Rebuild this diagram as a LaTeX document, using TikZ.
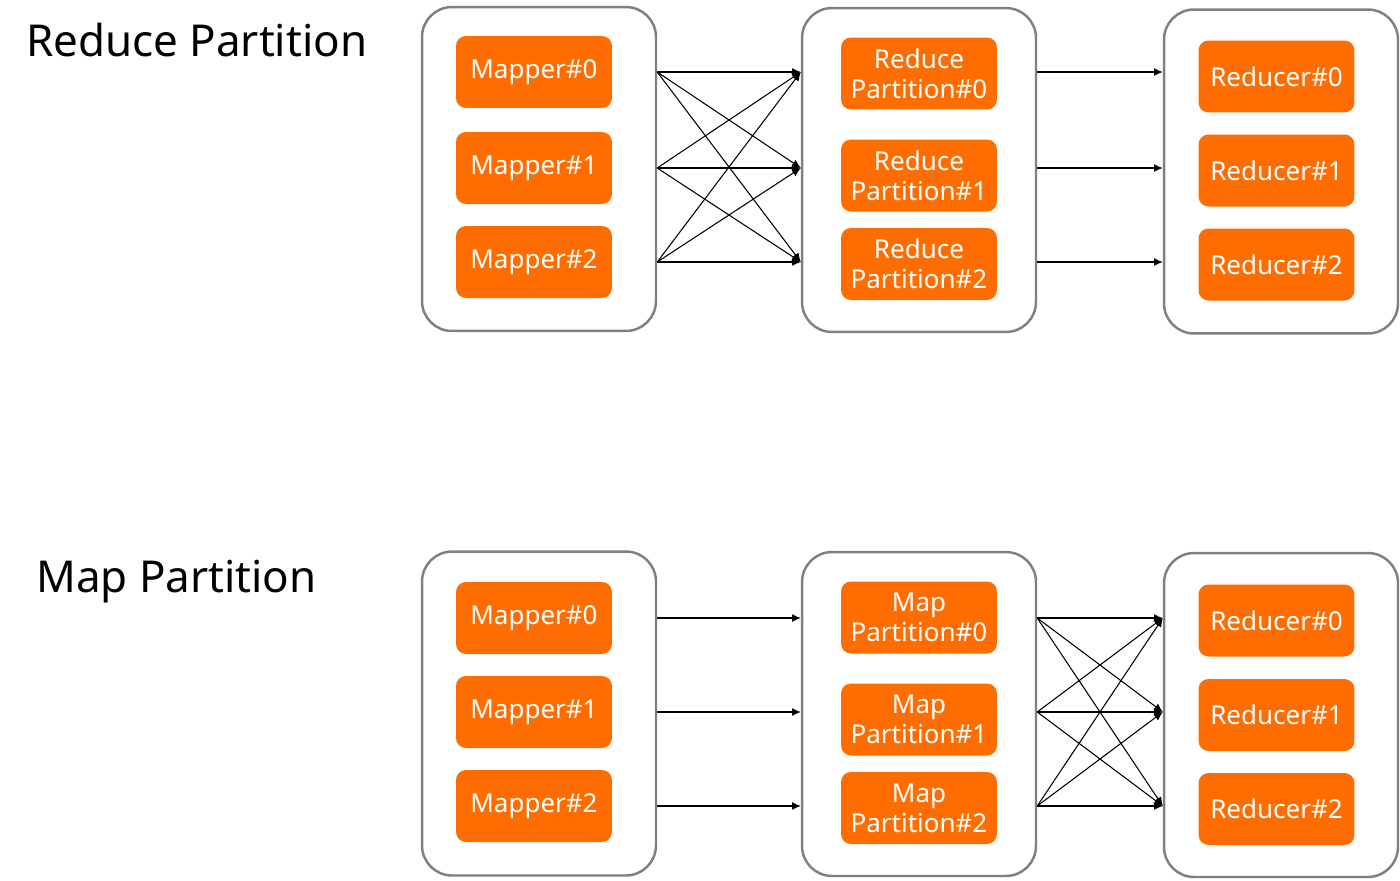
\documentclass[tikz,border=0pt]{standalone}
\usepackage{fontspec}
\setmainfont{Noto Sans}
\usepackage{xcolor}
\definecolor{flame}{HTML}{FF6D00}
\definecolor{frame}{HTML}{808080}
\usepackage{tikz}
\usetikzlibrary{positioning,arrows.meta,calc}

\begin{document}
\begin{tikzpicture}[
  x=0.02cm,y=-0.02cm,
  font=\fontsize{14.8}{17}\selectfont,
  stage/.style={draw=frame,line width=1.4pt,fill=white,rounded corners=0.6cm,
    minimum width=4.68cm,minimum height=6.48cm},
  task/.style={fill=flame,text=white,rounded corners=0.2cm,align=center,
    minimum width=3.12cm,minimum height=1.44cm,inner sep=2pt},
  title/.style={anchor=west,font=\fontsize{25}{30}\selectfont},
  flow/.style={draw=black,line width=0.6pt,-{Latex[length=5pt,width=4.5pt]}}
]
\useasboundingbox (0,0) rectangle (1400,880);

% Reduce partition
\node[title] (ttop) at (20,40) {Reduce Partition};
\node[stage] (ra) at (539,169) {};
\node[stage] (rb) at (919,170) {};
\node[stage] (rc) at (1281,171.5) {};
\node[task] (rm0) at (534,72) {Mapper\#0};
\node[task] (rm1) at (534,168) {Mapper\#1};
\node[task] (rm2) at (534,262) {Mapper\#2};
\node[task] (rp0) at (919,73.5) {Reduce\\Partition\#0};
\node[task] (rp1) at (919,175.5) {Reduce\\Partition\#1};
\node[task] (rp2) at (919,264) {Reduce\\Partition\#2};
\node[task] (rr0) at (1276.5,76.5) {Reducer\#0};
\node[task] (rr1) at (1276.5,170.5) {Reducer\#1};
\node[task] (rr2) at (1276.5,264.5) {Reducer\#2};

\foreach \i in {0,1,2}{
  \foreach \j in {0,1,2}{
    \draw[flow] (rm\i -| ra.east) -- (rm\j -| rb.west);
  }
  \draw[flow] (rm\i -| rb.east) -- (rm\i -| rc.west);
}

% Map partition
\node[title] (tbot) at (30,582) {Map Partition};
\node[stage] (ma) at (539,713.5) {};
\node[stage] (mb) at (919,714) {};
\node[stage] (mc) at (1281,715) {};
\node[task] (mm0) at (534,618) {Mapper\#0};
\node[task] (mm1) at (534,712) {Mapper\#1};
\node[task] (mm2) at (534,806) {Mapper\#2};
\node[task] (mp0) at (919,617.5) {Map\\Partition\#0};
\node[task] (mp1) at (919,719.5) {Map\\Partition\#1};
\node[task] (mp2) at (919,808) {Map\\Partition\#2};
\node[task] (mr0) at (1276.5,620.5) {Reducer\#0};
\node[task] (mr1) at (1276.5,715) {Reducer\#1};
\node[task] (mr2) at (1276.5,809) {Reducer\#2};

\foreach \i in {0,1,2}{
  \draw[flow] (mm\i -| ma.east) -- (mm\i -| mb.west);
  \foreach \j in {0,1,2}{
    \draw[flow] (mm\i -| mb.east) -- (mm\j -| mc.west);
  }
}
\end{tikzpicture}
\end{document}
